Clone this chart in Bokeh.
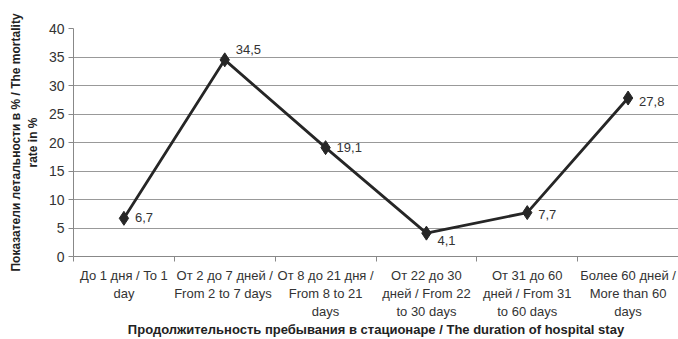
from bokeh.plotting import figure
from bokeh.models import FixedTicker, Range1d, ColumnDataSource
from bokeh.embed import file_html
from bokeh.resources import INLINE
from bokeh.core.properties import value

categories = ["До 1 дня / To 1\nday", "От 2 до 7 дней /\nFrom  2 to 7 days", "От 8 до 21 дня /\nFrom 8 to 21\ndays",
              "От 22 до 30\nдней / From 22\nto 30 days", "От 31 до 60\nдней / From 31\nto 60 days", "Более 60 дней /\nMore than 60\ndays"]
values = [6.7, 34.5, 19.1, 4.1, 7.7, 27.8]
value_labels = ["6,7", "34,5", "19,1", "4,1", "7,7", "27,8"]
y_ticks = [0, 5, 10, 15, 20, 25, 30, 35, 40]

xs = [i + 0.5 for i in range(len(categories))]
FONT = "Liberation Sans"

p = figure(width=678, height=339, output_backend="svg", toolbar_location=None,
           x_range=Range1d(0, len(categories)), y_range=Range1d(0, 40),
           min_border_left=73, min_border_right=0, min_border_top=28, min_border_bottom=82)
p.outline_line_color = None
p.background_fill_color = "white"
p.border_fill_color = "white"

label_dy = [-1, -10, 0, 7, 2, 3]
src = ColumnDataSource(dict(x=xs, y=values, lab=value_labels, yoff=label_dy))
p.line("x", "y", source=src, line_color="#262626", line_width=2.8)
p.scatter("x", "y", source=src, marker="diamond", size=14, fill_color="#262626", line_color="#262626")
p.text("x", "y", text="lab", source=src, x_offset=11, y_offset="yoff", text_baseline="middle",
       text_font=value(FONT), text_font_size="13px", text_color="#333333")

xt = FixedTicker(ticks=xs, minor_ticks=list(range(len(categories) + 1)))
p.xaxis.ticker = xt
p.xaxis.major_label_overrides = {x: c for x, c in zip(xs, categories)}
p.xaxis.major_tick_line_color = None
p.xaxis.major_tick_out = 0
p.xaxis.minor_tick_in = 0
p.xaxis.minor_tick_out = 5
p.xaxis.minor_tick_line_color = "#888888"
p.xaxis.axis_line_color = "#888888"
p.xaxis.major_label_text_font = FONT
p.xaxis.major_label_text_font_size = "13px"
p.xaxis.major_label_text_color = "#333333"
p.xaxis.major_label_standoff = 6
p.xaxis.axis_label = "Продолжительность пребывания в стационаре / The duration of hospital stay"
p.xaxis.axis_label_text_font = FONT
p.xaxis.axis_label_text_font_style = "bold"
p.xaxis.axis_label_text_font_size = "13px"
p.xaxis.axis_label_text_color = "#222222"
p.xaxis.axis_label_standoff = 0

p.yaxis.ticker = FixedTicker(ticks=y_ticks)
p.yaxis.minor_tick_line_color = None
p.yaxis.major_tick_in = 0
p.yaxis.major_tick_out = 5
p.yaxis.major_tick_line_color = "#888888"
p.yaxis.axis_line_color = "#888888"
p.yaxis.major_label_text_font = FONT
p.yaxis.major_label_text_font_size = "14px"
p.yaxis.major_label_text_color = "#333333"
p.yaxis.major_label_standoff = 4
p.yaxis.axis_label = "Показатели летальности в % / The mortality\nrate in %"
p.yaxis.axis_label_text_font = FONT
p.yaxis.axis_label_text_font_style = "bold"
p.yaxis.axis_label_text_font_size = "12px"
p.yaxis.axis_label_text_color = "#222222"
p.yaxis.axis_label_standoff = 6

p.xgrid.grid_line_color = None
p.ygrid.grid_line_color = "#999999"
p.ygrid.ticker = FixedTicker(ticks=y_ticks)

open("out.html", "w").write(file_html(p, INLINE))
